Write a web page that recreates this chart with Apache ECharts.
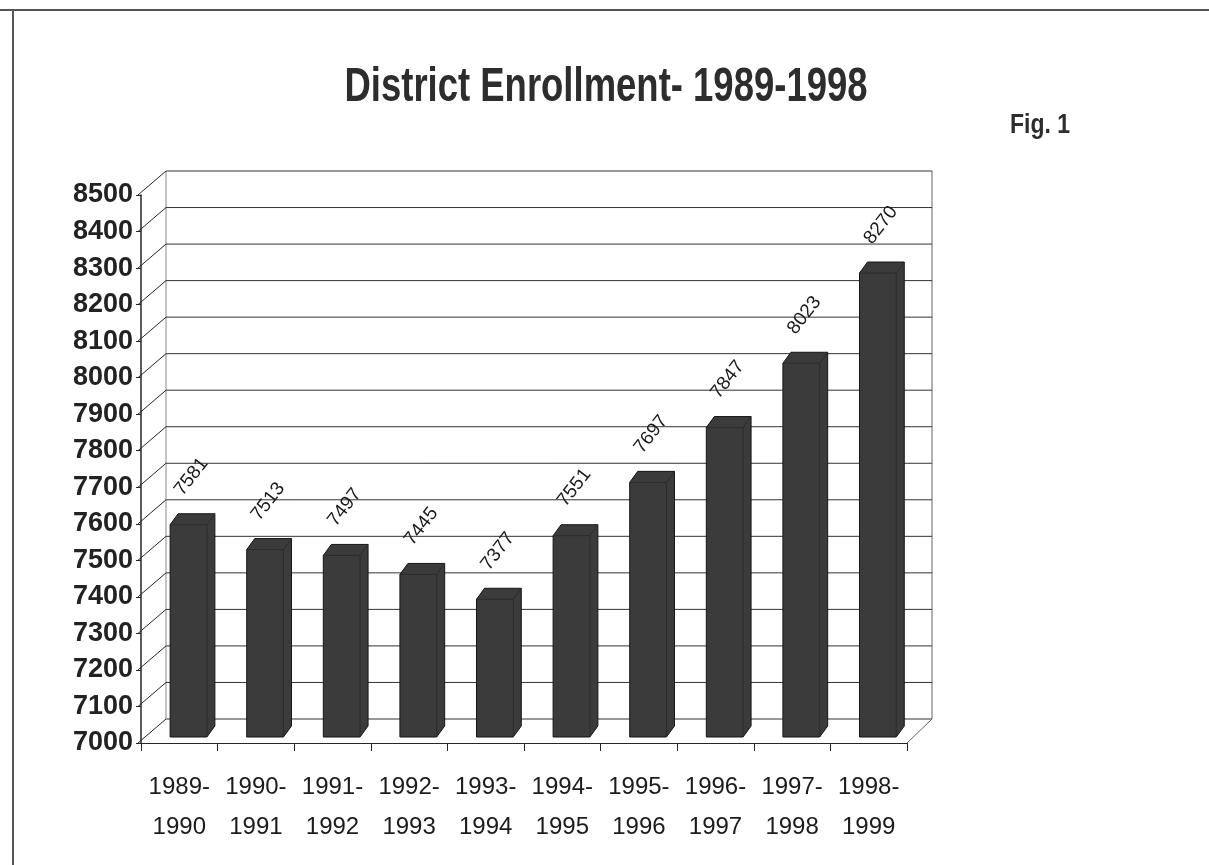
<!DOCTYPE html>
<html>
<head>
<meta charset="utf-8">
<title>District Enrollment- 1989-1998</title>
<script src="https://cdn.jsdelivr.net/npm/echarts@6/dist/echarts.min.js"></script>
<style>
  html, body { margin: 0; padding: 0; background: #ffffff; }
  #chart { width: 1209px; height: 865px; }
</style>
</head>
<body>
<div id="chart"></div>
<script>
// School years on the category axis
const categories = [
  '1989-\n1990', '1990-\n1991', '1991-\n1992', '1992-\n1993', '1993-\n1994',
  '1994-\n1995', '1995-\n1996', '1996-\n1997', '1997-\n1998', '1998-\n1999'
];
// Enrollment per school year
const enrollment = [7581, 7513, 7497, 7445, 7377, 7551, 7697, 7847, 8023, 8270];
// Value axis ticks
const yTicks = [7000, 7100, 7200, 7300, 7400, 7500, 7600, 7700, 7800, 7900,
                8000, 8100, 8200, 8300, 8400, 8500];

const Y_MIN = yTicks[0];
const Y_MAX = yTicks[yTicks.length - 1];
const Y_STEP = 100;

const SANS = "'Liberation Sans', Arial, Helvetica, sans-serif";
const WALL_DEPTH = [25, -24];   // offset of the back wall from the front plane, px
const BAR_DEPTH = [8, -11];     // depth of each box, px
const BAR_LIFT = 6;             // bars stand slightly behind the front edge of the floor
const LABEL_ANGLE = 52 * Math.PI / 180;
const INK = '#262626';

const chart = echarts.init(document.getElementById('chart'), null, { renderer: 'canvas' });

// Back wall gridlines, side wall diagonals and floor outline
function renderWalls(params, api) {
  const v = api.value(1);
  const bw = api.size([1, 0])[0];
  const pL = api.coord([0, v]);
  const pR = api.coord([categories.length - 1, v]);
  const xl = pL[0] - bw / 2;
  const xr = pR[0] + bw / 2;
  const y = pL[1];
  const [dx, dy] = WALL_DEPTH;
  const line = (x1, y1, x2, y2, color, w) => ({
    type: 'line',
    shape: { x1, y1, x2, y2 },
    style: { stroke: color || INK, lineWidth: w || 1 }
  });
  const children = [
    line(xl - 3, y, xl + dx, y + dy),
    line(xl + dx, y + dy, xr + dx, y + dy, '#333333', 1)
  ];
  if (v === Y_MIN) {
    const yTop = api.coord([0, Y_MAX])[1];
    children.push(line(xl + dx, y + dy, xl + dx, yTop + dy, '#8a8a8a', 1));
    children.push(line(xr + dx, y + dy, xr + dx, yTop + dy, '#666666', 1));
    children.push(line(xr, y, xr + dx, y + dy, '#666666', 1));
  }
  return { type: 'group', children };
}

// 3D-looking boxes with rotated value labels
function renderBars(params, api) {
  const i = api.value(0);
  const v = api.value(1);
  const bw = api.size([1, 0])[0];
  const base = api.coord([i, Y_MIN]);
  const top = api.coord([i, v]);
  const w = bw * 0.48;
  const x0 = base[0] - bw / 2 + bw * 0.38;
  const x1 = x0 + w;
  const yb = base[1] - BAR_LIFT;
  const yt = top[1] - BAR_LIFT;
  const [dx, dy] = BAR_DEPTH;
  return {
    type: 'group',
    children: [
      {
        type: 'polygon',
        shape: {
          points: [
            [x0, yb], [x0, yt], [x0 + dx, yt + dy], [x1 + dx, yt + dy],
            [x1 + dx, yb + dy], [x1, yb]
          ]
        },
        style: { fill: '#3b3b3b', stroke: '#151515', lineWidth: 1 }
      },
      {
        type: 'polyline',
        shape: { points: [[x0, yt], [x1, yt], [x1, yb]] },
        style: { stroke: '#2c2c2c', lineWidth: 1, fill: null }
      },
      {
        type: 'line',
        shape: { x1: x1, y1: yt, x2: x1 + dx, y2: yt + dy },
        style: { stroke: '#2c2c2c', lineWidth: 1 }
      },
      {
        type: 'text',
        x: x0 + w / 2 + 3,
        y: yt + dy - 37,
        rotation: LABEL_ANGLE,
        style: {
          text: String(v),
          fontFamily: SANS,
          fontSize: 19,
          fill: '#1a1a1a',
          align: 'center',
          verticalAlign: 'middle'
        }
      }
    ]
  };
}

chart.setOption({
  animation: false,
  backgroundColor: '#ffffff',
  graphic: [
    {
      // chart heading, set in a compressed bold face
      type: 'text',
      x: 606,
      y: 88,
      scaleX: 0.76,
      style: {
        text: 'District Enrollment- 1989-1998',
        fontFamily: SANS,
        fontWeight: 'bold',
        fontSize: 48,
        fill: '#2d2d2d',
        align: 'center',
        verticalAlign: 'middle'
      }
    },
    {
      type: 'text',
      x: 1010,
      y: 125,
      scaleX: 0.82,
      style: {
        text: 'Fig. 1',
        fontFamily: SANS,
        fontWeight: 'bold',
        fontSize: 28,
        fill: '#2d2d2d',
        align: 'left',
        verticalAlign: 'middle'
      }
    },
    {
      type: 'line',
      shape: { x1: 0, y1: 10, x2: 1209, y2: 10 },
      style: { stroke: '#555555', lineWidth: 2 }
    },
    {
      type: 'line',
      shape: { x1: 13, y1: 10, x2: 13, y2: 865 },
      style: { stroke: '#555555', lineWidth: 2 }
    }
  ],
  grid: { left: 141, right: 302, top: 195, bottom: 122, containLabel: false },
  xAxis: {
    type: 'category',
    data: categories,
    boundaryGap: true,
    axisLine: { show: true, lineStyle: { color: INK, width: 1 } },
    axisTick: { show: true, length: 8, lineStyle: { color: INK } },
    axisLabel: {
      interval: 0,
      margin: 24,
      fontFamily: SANS,
      fontSize: 24,
      lineHeight: 40,
      color: '#1c1c1c'
    },
    splitLine: { show: false }
  },
  yAxis: {
    type: 'value',
    min: Y_MIN,
    max: Y_MAX,
    interval: Y_STEP,
    axisLine: { show: true, lineStyle: { color: INK, width: 1.5 } },
    axisTick: { show: true, length: 5, lineStyle: { color: INK } },
    axisLabel: {
      margin: 8,
      fontFamily: SANS,
      fontWeight: 'bold',
      fontSize: 27,
      color: '#222222',
      formatter: (v) => String(v)
    },
    splitLine: { show: false }
  },
  series: [
    {
      type: 'custom',
      name: 'walls',
      coordinateSystem: 'cartesian2d',
      clip: false,
      silent: true,
      z: 1,
      encode: { x: 0, y: 1 },
      data: yTicks.map(v => [0, v]),
      renderItem: renderWalls
    },
    {
      type: 'custom',
      name: 'Enrollment',
      coordinateSystem: 'cartesian2d',
      clip: false,
      z: 3,
      encode: { x: 0, y: 1 },
      data: enrollment.map((v, i) => [i, v]),
      renderItem: renderBars
    }
  ]
});
</script>
</body>
</html>
